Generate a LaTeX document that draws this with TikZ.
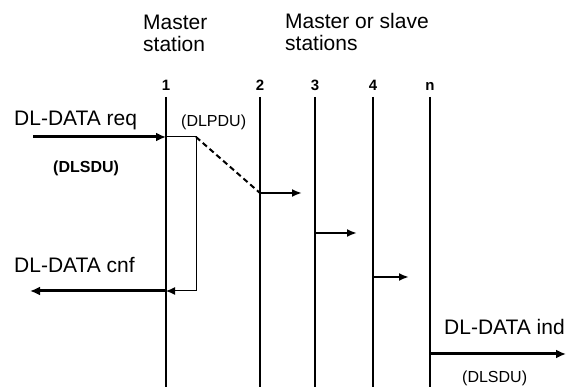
\documentclass[tikz,border=0pt]{standalone}
\usepackage{fontspec}
\setmainfont{Liberation Sans}
\usetikzlibrary{arrows.meta,positioning}

\begin{document}
\begin{tikzpicture}[
  x=1pt, y=-1pt,
  big/.style={font=\fontsize{21}{22}\selectfont, inner sep=0pt,
    anchor=north west, align=left},
  pdu/.style={font=\fontsize{16}{18}\selectfont, inner sep=0pt,
    anchor=base west},
  stnum/.style={font=\fontsize{15}{16}\selectfont\bfseries, inner sep=0pt,
    anchor=base},
  lifeline/.style={line width=2.5pt},
  prim/.style={line width=3pt, -{Latex[length=10pt, width=9pt]}},
  hop/.style={line width=2.2pt, -{Latex[length=10pt, width=8pt]}},
  loopback/.style={line width=1pt, -{Latex[length=9pt, width=8pt]}},
  relay/.style={line width=2pt, dash pattern=on 5.5pt off 3.5pt}
]
\useasboundingbox (0,0) rectangle (566,387);

% station headings
\node[big] (master) at (143,15) {Master\\station};
\node[big] (others) at (285,13) {Master or slave\\stations};

% one time line per station
\foreach \sx/\sn/\sid in {166/1/one, 260/2/two, 315/3/three, 373/4/four,
    430/n/last} {
  \node[stnum] (num-\sid) at (\sx,91) {\sn};
  \coordinate (top-\sid) at (\sx,97);
  \coordinate (bot-\sid) at (\sx,387);
  \draw[lifeline] (top-\sid) -- (bot-\sid);
}

% request in, confirm out at the master
\coordinate (req-in) at (33,137);
\coordinate (req-at) at (166,137);
\coordinate (pdu-out) at (196,137);
\coordinate (pdu-back) at (196,291);
\coordinate (cnf-at) at (166,291);
\coordinate (cnf-out) at (30,291);
\draw[prim] (req-in) -- (req-at);
\draw[loopback] (req-at) -- (pdu-out) -- (pdu-back) -- (cnf-at);
\draw[prim] (cnf-at) -- (cnf-out);

\node[big, anchor=base west] (req) at (14,126) {DL-DATA req};
\node[pdu, font=\fontsize{16}{18}\selectfont\bfseries] (sdu-in)
  at (53,173) {(DLSDU)};
\node[pdu] (dlpdu) at (181,127) {(DLPDU)};
\node[big, anchor=base west] (cnf) at (14,273) {DL-DATA cnf};

% frame passed along the line
\coordinate (at-two) at (260,193);
\coordinate (to-two) at (302,193);
\coordinate (at-three) at (315,233);
\coordinate (to-three) at (357,233);
\coordinate (at-four) at (373,277);
\coordinate (to-four) at (409,277);
\draw[relay] (pdu-out) -- (at-two);
\draw[hop] (at-two) -- (to-two);
\draw[hop] (at-three) -- (to-three);
\draw[hop] (at-four) -- (to-four);

% indication at station n
\coordinate (ind-at) at (430,354);
\coordinate (ind-out) at (566,354);
\draw[prim] (ind-at) -- (ind-out);
\node[big, anchor=base west] (ind) at (444,335) {DL-DATA ind};
\node[pdu] (sdu-out) at (462,383) {(DLSDU)};
\end{tikzpicture}
\end{document}
